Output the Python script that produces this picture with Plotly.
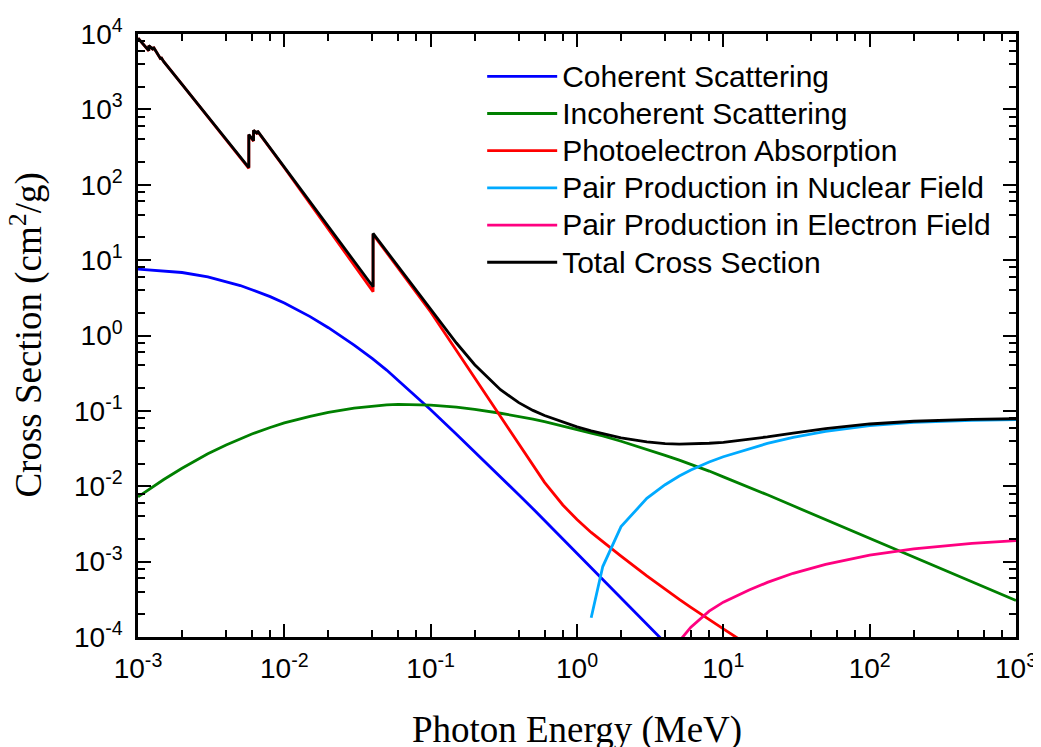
import plotly.graph_objects as go

# ---------------- data ----------------
# Coherent scattering
coh_E = [1e-3, 1.5e-3, 2e-3, 3e-3, 4e-3, 5e-3, 6e-3, 8e-3, 0.01, 0.015, 0.02, 0.03, 0.04, 0.05,
         0.06, 0.08, 0.1, 0.15, 0.2, 0.3, 0.4, 0.5, 0.6, 0.8, 1.0, 1.5, 2.0, 3.0, 4.0]
coh_val = [7.6, 7.16, 6.85, 6.0, 5.16, 4.6, 4.04, 3.28, 2.70, 1.78, 1.27, 0.746, 0.492, 0.348,
           0.2535, 0.153, 0.1035, 0.0489, 0.0287, 0.0133, 7.71e-3, 5.04e-3, 3.53e-3, 2.01e-3,
           1.30e-3, 5.86e-4, 3.33e-4, 1.49e-4, 8.4e-5]

# Incoherent scattering
inc_E = [1e-3, 1.5e-3, 2e-3, 3e-3, 4e-3, 5e-3, 6e-3, 8e-3, 0.01, 0.015, 0.02, 0.03, 0.04, 0.05,
         0.06, 0.08, 0.1, 0.15, 0.2, 0.3, 0.4, 0.5, 0.6, 0.8, 1.0, 1.25, 1.5, 2.0, 3.0, 4.0,
         5.0, 6.0, 8.0, 10.0, 15.0, 20.0, 30.0, 50.0, 100.0, 200.0, 500.0, 1000.0]
inc_val = [0.00724, 0.0123, 0.0173, 0.0269, 0.0353, 0.0427, 0.0493, 0.0602, 0.0692, 0.0847,
           0.0957, 0.109, 0.116, 0.120, 0.1216, 0.1216, 0.1194, 0.112, 0.105, 0.093, 0.085,
           0.078, 0.072, 0.0635, 0.0565, 0.0508, 0.0465, 0.0395, 0.031, 0.0257, 0.0222, 0.0196,
           0.0159, 0.0133, 0.0097, 0.0077, 0.0055, 0.0036, 0.00205, 0.00116, 0.00053, 0.000305]

# Photoelectric absorption (absorption edges appear as repeated energies)
pe_E = [1e-3, 1.185e-3, 1.185e-3, 1.273e-3, 1.273e-3, 1.435e-3, 1.435e-3, 1.5e-3, 2e-3, 3e-3,
        4e-3, 5e-3, 5.72e-3, 5.72e-3, 6.16e-3, 6.16e-3, 6.55e-3, 6.55e-3, 8e-3, 0.01, 0.015,
        0.02, 0.03, 0.04, 0.0404, 0.0404, 0.05, 0.06, 0.08, 0.1, 0.15, 0.2, 0.3, 0.4, 0.5, 0.6,
        0.8, 1.0, 1.25, 1.5, 2.0, 3.0, 4.0, 5.0, 6.0, 8.0, 10.0, 15.0]
pe_val = [8800, 6000, 7000, 6200, 6700, 4600, 4900, 4290, 2140, 800,
          400, 232, 165, 460, 380, 525, 470, 515, 305, 168, 56,
          25.9, 8.65, 3.97, 3.82, 22.0, 12.6, 7.8, 3.69, 2.05, 0.634, 0.275, 0.0849, 0.0358,
          0.01853, 0.01125, 5.64e-3, 3.61e-3, 2.44e-3, 1.82e-3, 1.18e-3, 6.47e-4, 4.28e-4,
          3.15e-4, 2.47e-4, 1.69e-4, 1.28e-4, 7.7e-5]

# Pair production in nuclear field
ppn_E = [1.25, 1.5, 2.0, 3.0, 4.0, 5.0, 6.0, 8.0, 10.0, 15.0, 20.0, 30.0, 50.0, 100.0, 200.0, 500.0, 1000.0]
ppn_val = [1.8e-4, 8.6e-4, 2.92e-3, 6.9e-3, 0.01047, 0.01368, 0.0164, 0.02094, 0.0246, 0.0316,
           0.0370, 0.0446, 0.0536, 0.0637, 0.0702, 0.0748, 0.0764]

# Pair production in electron field
ppe_E = [3.0, 4.0, 5.0, 6.0, 8.0, 10.0, 15.0, 20.0, 30.0, 50.0, 100.0, 200.0, 500.0, 1000.0]
ppe_val = [1.5e-5, 5e-5, 8.8e-5, 1.35e-4, 2.2e-4, 2.9e-4, 4.2e-4, 5.3e-4, 7.0e-4, 9.2e-4,
           1.22e-3, 1.48e-3, 1.75e-3, 1.9e-3]

# Total cross section
tot_E = [1e-3, 1.185e-3, 1.185e-3, 1.273e-3, 1.273e-3, 1.435e-3, 1.435e-3, 1.5e-3, 2e-3, 3e-3,
         4e-3, 5e-3, 5.72e-3, 5.72e-3, 6.16e-3, 6.16e-3, 6.55e-3, 6.55e-3, 8e-3, 0.01, 0.015,
         0.02, 0.03, 0.04, 0.0404, 0.0404, 0.05, 0.06, 0.08, 0.1, 0.15, 0.2, 0.3, 0.4, 0.5, 0.6,
         0.8, 1.0, 1.25, 1.5, 2.0, 3.0, 4.0, 5.0, 6.0, 8.0, 10.0, 15.0, 20.0, 30.0, 50.0, 100.0,
         200.0, 500.0, 1000.0]
tot_val = [8808, 6007, 7007, 6207, 6707, 4607, 4907, 4297, 2147, 806,
           405, 237, 169, 464, 384, 529, 474, 519, 308, 171, 57.8,
           27.3, 9.5, 4.58, 4.43, 22.6, 13.1, 8.17, 3.96, 2.27, 0.795, 0.409, 0.191, 0.1285,
           0.1015, 0.0868, 0.0711, 0.0614, 0.0543, 0.0498, 0.0439, 0.0387, 0.0367, 0.0363,
           0.0364, 0.0372, 0.0383, 0.0417, 0.0452, 0.0508, 0.0581, 0.067, 0.0728, 0.0771, 0.0786]

series = [
    ("Coherent Scattering", coh_E, coh_val, "#0000FF"),
    ("Incoherent Scattering", inc_E, inc_val, "#008000"),
    ("Photoelectron Absorption", pe_E, pe_val, "#FF0000"),
    ("Pair Production in Nuclear Field", ppn_E, ppn_val, "#00AAFF"),
    ("Pair Production in Electron Field", ppe_E, ppe_val, "#FF0080"),
    ("Total Cross Section", tot_E, tot_val, "#000000"),
]

x_major = [1e-3, 1e-2, 1e-1, 1, 10, 100, 1000]
x_major_text = ["10<sup>-3</sup>", "10<sup>-2</sup>", "10<sup>-1</sup>", "10<sup>0</sup>",
                "10<sup>1</sup>", "10<sup>2</sup>", "10<sup>3</sup>"]
y_major = [1e-4, 1e-3, 1e-2, 1e-1, 1, 10, 100, 1000, 1e4]
y_major_text = ["10<sup>-4</sup>", "10<sup>-3</sup>", "10<sup>-2</sup>", "10<sup>-1</sup>",
                "10<sup>0</sup>", "10<sup>1</sup>", "10<sup>2</sup>", "10<sup>3</sup>", "10<sup>4</sup>"]
minor_mult = [2, 4, 6, 8]
x_title = "Photon Energy (MeV)"
y_title = "Cross Section (cm<sup>2</sup>/g)"

fig = go.Figure()
for name, xs, ys, col in series:
    fig.add_trace(go.Scatter(
        x=xs, y=ys, mode="lines",
        name='<span style="font-size:30px">' + name + "</span>",
        line=dict(color=col, width=2.8)))

x_minor = [m * d for d in x_major[:-1] for m in minor_mult]
y_minor = [m * d for d in y_major[:-1] for m in minor_mult]

axis_common = dict(
    type="log", showline=True, linecolor="black", linewidth=2.5, mirror="ticks",
    ticks="inside", ticklen=13, tickwidth=2, tickcolor="black", showgrid=False, zeroline=False,
    tickfont=dict(family="Liberation Sans, Arial", size=28, color="black"),
    tickmode="array", automargin=False,
)
title_font = dict(family="Liberation Serif, Times New Roman", size=37, color="black")

fig.update_xaxes(**axis_common, range=[-3, 3], tickvals=x_major, ticktext=x_major_text,
                 minor=dict(tickmode="array", tickvals=x_minor, ticks="inside", ticklen=7,
                            tickwidth=2, tickcolor="black", showgrid=False),
                 ticklabelstandoff=5,
                 title=dict(text=x_title, standoff=33, font=title_font))
fig.update_yaxes(**axis_common, range=[-4, 4], tickvals=y_major, ticktext=y_major_text,
                 minor=dict(tickmode="array", tickvals=y_minor, ticks="inside", ticklen=7,
                            tickwidth=2, tickcolor="black", showgrid=False),
                 ticklabelstandoff=7)

# y-axis title as a rotated annotation so it can sit closer to the page edge
fig.add_annotation(text=y_title, textangle=-90, xref="paper", yref="paper",
                   x=-0.1275, y=0.5, xanchor="center", yanchor="middle",
                   showarrow=False, font=title_font)

# the page body adds an 8 px offset, so the margins are shifted to keep the plot frame
# at the reference position in the browser window
fig.update_layout(
    width=1041, height=747,
    margin=dict(l=130, r=33, t=26, b=118, autoexpand=False),
    paper_bgcolor="white", plot_bgcolor="white",
    showlegend=True,
    legend=dict(x=0.392, y=0.969, xanchor="left", yanchor="top",
                font=dict(family="Liberation Sans, Arial", size=26.3, color="black"),
                bgcolor="rgba(0,0,0,0)", itemwidth=70, tracegroupgap=0),
)

fig.write_html("out.html")
